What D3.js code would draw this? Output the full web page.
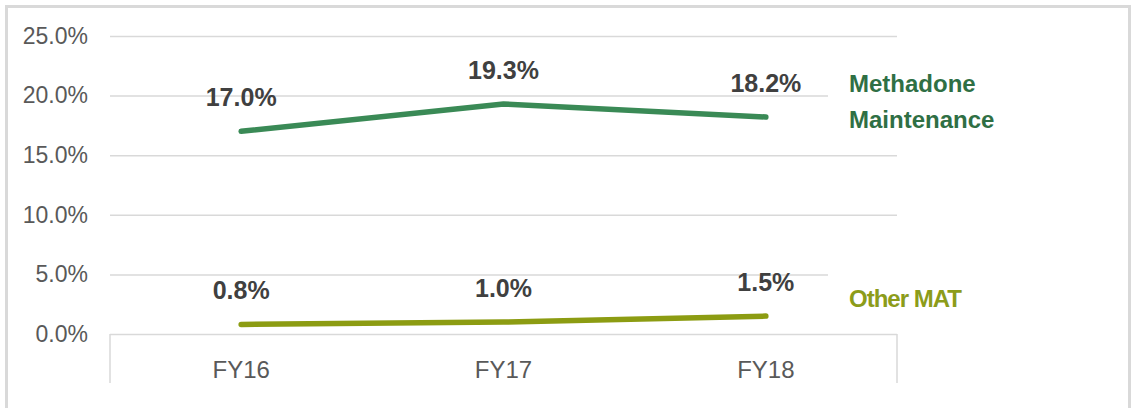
<!DOCTYPE html>
<html>
<head>
<meta charset="utf-8">
<script src="https://cdn.jsdelivr.net/npm/d3@7"></script>
<style>
  html, body { margin: 0; padding: 0; background: #fff; }
  svg { display: block; font-family: "Liberation Sans", Arial, sans-serif; }
</style>
</head>
<body>
<svg id="chart" width="1131" height="408"></svg>
<script>
const categories = ["FY16", "FY17", "FY18"];
const methadone = [17.0, 19.3, 18.2];
const otherMAT = [0.8, 1.0, 1.5];
const yTicks = [0, 5, 10, 15, 20, 25];
const seriesNames = [["Methadone", "Maintenance"], ["Other MAT"]];

(function () {
const svg = d3.select("#chart");
const W = 1131, H = 408;

// outer frame
svg.append("rect").attr("x", 6.5).attr("y", 6.5).attr("width", W - 8).attr("height", H + 10)
  .attr("fill", "#fff").attr("stroke", "#d9d9d9").attr("stroke-width", 3);

const pLeft = 110, pRight = 897, pTop = 36, pBottom = 334;
const x = d3.scaleBand().domain(categories).range([pLeft, pRight]);
const y = d3.scaleLinear().domain([0, 25]).range([pBottom, pTop]);
const cx = d => x(d) + x.bandwidth() / 2;

// gridlines + y labels
const yAxis = d3.axisLeft(y).tickValues(yTicks).tickSize(-(pRight - pLeft))
  .tickFormat(d => d3.format(".1f")(d) + "%").tickPadding(22);
const gy = svg.append("g").attr("transform", `translate(${pLeft},0)`).call(yAxis);
gy.select(".domain").remove();
gy.selectAll(".tick line").attr("stroke", "#d9d9d9").attr("stroke-width", 1.5);
gy.selectAll(".tick text").attr("fill", "#595959").style("font-size", "23px")
  .style("font-family", "'Liberation Sans', Arial, sans-serif");

// category axis
const xAxis = d3.axisBottom(x).tickSize(0).tickPadding(27);
const gx = svg.append("g").attr("transform", `translate(0,${pBottom})`).call(xAxis);
gx.select(".domain").remove();
gx.selectAll(".tick text").attr("fill", "#595959").style("font-size", "24px")
  .style("font-family", "'Liberation Sans', Arial, sans-serif");
svg.append("line").attr("x1", pLeft).attr("x2", pLeft).attr("y1", pBottom).attr("y2", pBottom + 49)
  .attr("stroke", "#d9d9d9").attr("stroke-width", 1.5);
svg.append("line").attr("x1", pRight).attr("x2", pRight).attr("y1", pBottom).attr("y2", pBottom + 49)
  .attr("stroke", "#d9d9d9").attr("stroke-width", 1.5);

// series label boxes (white fill covering gridlines)
svg.append("rect").attr("x", 828).attr("y", 62).attr("width", 190).attr("height", 78).attr("fill", "#fff");
svg.append("rect").attr("x", 828).attr("y", 266).attr("width", 160).attr("height", 50).attr("fill", "#fff");

const series = [
  { values: methadone, color: "#3a8a56", text: "#2f6f44", names: seriesNames[0], ny: 92 },
  { values: otherMAT, color: "#8c9c12", text: "#8c9c1a", names: seriesNames[1], ny: 307 }
];

const line = d3.line().x((d, i) => cx(categories[i])).y(d => y(d));

series.forEach(s => {
  svg.append("path").datum(s.values).attr("d", line)
    .attr("fill", "none").attr("stroke", s.color).attr("stroke-width", 5.5)
    .attr("stroke-linecap", "round").attr("stroke-linejoin", "round");
  svg.append("g").selectAll("text").data(s.values).join("text")
    .attr("x", (d, i) => cx(categories[i]))
    .attr("y", d => y(d) - 25)
    .attr("text-anchor", "middle")
    .attr("fill", "#404040").style("font-size", "25px").style("font-weight", "bold")
    .text(d => d3.format(".1f")(d) + "%");
  svg.append("g").selectAll("text").data(s.names).join("text")
    .attr("x", 849).attr("y", (d, i) => s.ny + i * 36)
    .attr("fill", s.text).style("font-size", "24px").style("font-weight", "bold")
    .style("letter-spacing", s.names.length === 1 ? "-1px" : "0px")
    .text(d => d);
});
})();
</script>
</body>
</html>
